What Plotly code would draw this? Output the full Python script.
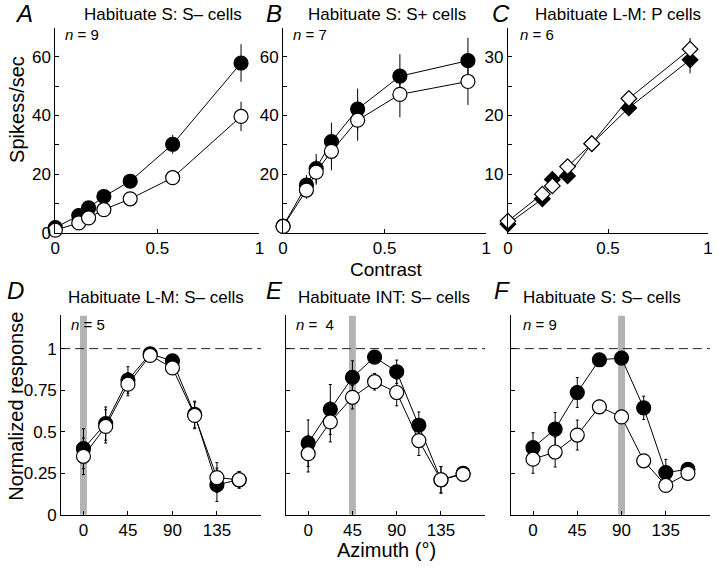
import plotly.graph_objects as go

# contrast levels (top row)
contrast_ab = [0, 0.115, 0.163, 0.238, 0.367, 0.575, 0.91]
contrast_c = [0, 0.172, 0.222, 0.298, 0.419, 0.604, 0.91]

# A: Habituate S, S- cells (spikes/sec)
a_pre = [1.8, 5.9, 8.5, 12.4, 17.6, 30.2, 57.9]
a_pre_err = [1, 1, 1, 1.2, 1.5, 3.2, 6.4]
a_post = [0.9, 3.4, 5.1, 7.9, 11.6, 18.8, 39.7]
a_post_err = [0.8, 1, 1, 1, 1.5, 2.5, 5]

# B: Habituate S, S+ cells
b_pre = [2.3, 16.3, 21.9, 31.1, 42.2, 53.4, 58.7]
b_pre_err = [1, 3.4, 5, 6.5, 7, 7.5, 7.8]
b_post = [2.2, 14.6, 20.7, 27.8, 38.4, 47.2, 51.6]
b_post_err = [1, 3, 4.3, 6.5, 7, 7.8, 8]

# C: Habituate L-M, P cells
c_pre = [1.5, 5.8, 9.1, 9.7, 15.2, 21.3, 29.5]
c_pre_err = [0.6, 0.8, 0.8, 0.8, 0.8, 1, 2.3]
c_post = [2.0, 6.6, 8.0, 11.3, 15.2, 22.9, 31.3]
c_post_err = [0.6, 0.8, 1, 0.8, 0.8, 1.2, 1.9]

# azimuth (bottom row)
azimuth = [0, 22.5, 45, 67.5, 90, 112.5, 135, 157.5]

d_pre = [0.398, 0.549, 0.811, 0.969, 0.926, 0.604, 0.181, 0.211]
d_pre_err = [0.12, 0.1, 0.08, 0.02, 0.03, 0.08, 0.1, 0.05]
d_post = [0.352, 0.532, 0.786, 0.959, 0.884, 0.598, 0.224, 0.211]
d_post_err = [0.11, 0.1, 0.07, 0.02, 0.03, 0.08, 0.09, 0.05]

e_pre = [0.431, 0.634, 0.827, 0.949, 0.861, 0.539, 0.211, 0.25]
e_pre_err = [0.14, 0.15, 0.1, 0.02, 0.07, 0.08, 0.08, 0.04]
e_post = [0.368, 0.559, 0.707, 0.801, 0.736, 0.447, 0.211, 0.244]
e_post_err = [0.11, 0.12, 0.07, 0.05, 0.08, 0.09, 0.08, 0.04]

f_pre = [0.404, 0.516, 0.736, 0.933, 0.943, 0.644, 0.254, 0.274]
f_pre_err = [0.09, 0.1, 0.09, 0.02, 0.02, 0.07, 0.08, 0.04]
f_post = [0.335, 0.378, 0.48, 0.65, 0.589, 0.325, 0.177, 0.25]
f_post_err = [0.085, 0.09, 0.09, 0.04, 0.02, 0.03, 0.03, 0.04]

adapt_az = [0, 45, 90]  # grey bar positions for D, E, F

titles = ["Habituate S: S\u2013 cells", "Habituate S: S+ cells", "Habituate L-M: P cells",
          "Habituate L-M: S\u2013 cells", "Habituate INT: S\u2013 cells", "Habituate S: S\u2013 cells"]
letters = ["A", "B", "C", "D", "E", "F"]
n_labels = ["9", "7", "6", "5", " 4", "9"]

FONT = "Liberation Sans, Arial, sans-serif"
W, H = 720, 572

def px(x):
    return x / W

def py(y):
    return 1 - y / H

top_y = [py(237), py(28)]
bot_y = [py(524), py(321)]
doms = [(51, 258), (282, 488), (510, 713), (57, 260), (285, 487), (513, 715)]

fig = go.Figure()

def add_pair(i, x, pre, pre_err, post, post_err, symbol, size, capw):
    ax = "" if i == 0 else str(i + 1)
    for yv, ev, fill in [(pre, pre_err, "black"), (post, post_err, "white")]:
        fig.add_trace(go.Scatter(
            x=x, y=yv, xaxis="x" + ax, yaxis="y" + ax, mode="lines+markers",
            line=dict(color="black", width=1),
            marker=dict(symbol=symbol, size=size, color=fill, line=dict(color="black", width=1.2)),
            error_y=dict(type="data", array=ev, color="black", thickness=1, width=capw),
            showlegend=False, cliponaxis=False))

add_pair(0, contrast_ab, a_pre, a_pre_err, a_post, a_post_err, "circle", 14, 0)
add_pair(1, contrast_ab, b_pre, b_pre_err, b_post, b_post_err, "circle", 14, 0)
add_pair(2, contrast_c, c_pre, c_pre_err, c_post, c_post_err, "diamond", 12, 0)
add_pair(3, azimuth, d_pre, d_pre_err, d_post, d_post_err, "circle", 14, 1.5)
add_pair(4, azimuth, e_pre, e_pre_err, e_post, e_post_err, "circle", 14, 1.5)
add_pair(5, azimuth, f_pre, f_pre_err, f_post, f_post_err, "circle", 14, 1.5)

axis_common = dict(showline=True, linecolor="black", linewidth=1, ticks="inside", ticklen=4,
                   tickcolor="black", showgrid=False, zeroline=False, mirror=False,
                   ticklabeloverflow="allow",
                   tickfont=dict(family=FONT, size=17, color="black"))

layout = dict(width=W, height=H, margin=dict(l=0, r=0, t=0, b=0),
              paper_bgcolor="white", plot_bgcolor="white", font=dict(family=FONT, color="black"))

y_top = [
    dict(range=[0, 70], tickvals=[0, 10, 20, 30, 40, 50, 60], ticktext=["0", "", "20", "", "40", "", "60"]),
    dict(range=[0, 70], tickvals=[0, 10, 20, 30, 40, 50, 60], ticktext=["", "", "20", "", "40", "", "60"]),
    dict(range=[0, 35], tickvals=[0, 5, 10, 15, 20, 25, 30], ticktext=["", "", "10", "", "20", "", "30"]),
]
for i in range(6):
    ax = "" if i == 0 else str(i + 1)
    x0, x1 = doms[i]
    if i < 3:
        xa = dict(domain=[px(x0), px(x1)], range=[0, 1], tickvals=[0, 0.5, 1],
                  ticktext=["0", "0.5", "1"], anchor="y" + ax, **axis_common)
        ya = dict(domain=top_y, anchor="x" + ax, **y_top[i], **axis_common)
    else:
        xa = dict(domain=[px(x0), px(x1)], range=[-22.5, 180], tickvals=[0, 45, 90, 135],
                  anchor="y" + ax, **axis_common)
        ya = dict(domain=bot_y, range=[0, 1.2], tickvals=[0, 0.25, 0.5, 0.75, 1], anchor="x" + ax,
                  ticktext=["0", "0.25", "0.5", "0.75", "1"] if i == 3 else [""] * 5, **axis_common)
    layout["xaxis" + ax] = xa
    layout["yaxis" + ax] = ya

shapes = []
for k, az in enumerate(adapt_az):
    ax = str(k + 4)
    shapes.append(dict(type="rect", xref="x" + ax, yref="y" + ax, x0=az - 3.5, x1=az + 3.5, y0=0, y1=1.2,
                       fillcolor="#b3b3b3", line=dict(width=0), layer="below"))
    shapes.append(dict(type="line", xref="x" + ax, yref="y" + ax, x0=-22.5, x1=180, y0=1, y1=1,
                       line=dict(color="#222222", width=1, dash="9px,5px"), layer="below"))
layout["shapes"] = shapes

ann = []
letter_pos = [(19, 14), (273, 14), (503, 14), (11, 296), (273, 296), (504, 296)]
title_pos = [(160, 15), (387, 15), (622, 15), (153, 303), (384, 303), (605, 303)]
n_pos = [(59, 35), (290, 35), (520, 35), (65, 330), (293, 330), (523, 330)]
for i in range(6):
    ann.append(dict(text="<i>" + letters[i] + "</i>", x=px(letter_pos[i][0]), y=py(letter_pos[i][1]),
                    xref="paper", yref="paper", showarrow=False, xanchor="center", yanchor="middle",
                    font=dict(family=FONT, size=24, color="black")))
    ann.append(dict(text=titles[i], x=px(title_pos[i][0]), y=py(title_pos[i][1]),
                    xref="paper", yref="paper", showarrow=False, xanchor="center", yanchor="middle",
                    font=dict(family=FONT, size=17, color="black")))
    ann.append(dict(text="<i>n</i> = " + n_labels[i], x=px(n_pos[i][0]), y=py(n_pos[i][1]),
                    xref="paper", yref="paper", showarrow=False, xanchor="left", yanchor="middle",
                    font=dict(family=FONT, size=15, color="black")))

ann.append(dict(text="Spikess/sec", x=px(12), y=py(111), xref="paper", yref="paper", showarrow=False,
                textangle=-90, xanchor="center", yanchor="middle", font=dict(family=FONT, size=20, color="black")))
ann.append(dict(text="Normalized response", x=px(11), y=py(413), xref="paper", yref="paper", showarrow=False,
                textangle=-90, xanchor="center", yanchor="middle", font=dict(family=FONT, size=20, color="black")))
ann.append(dict(text="Contrast", x=px(387), y=py(274), xref="paper", yref="paper", showarrow=False,
                xanchor="center", yanchor="middle", font=dict(family=FONT, size=19, color="black")))
ann.append(dict(text="Azimuth (\u00b0)", x=px(387), y=py(560), xref="paper", yref="paper", showarrow=False,
                xanchor="center", yanchor="middle", font=dict(family=FONT, size=20, color="black")))
layout["annotations"] = ann

fig.update_layout(**layout)
# drop the default page margin so the figure sits at the window origin; hide the modebar
fig.write_html("out.html", config={"displayModeBar": False},
               post_script="document.body.style.margin='0px';document.body.style.overflow='hidden';")
